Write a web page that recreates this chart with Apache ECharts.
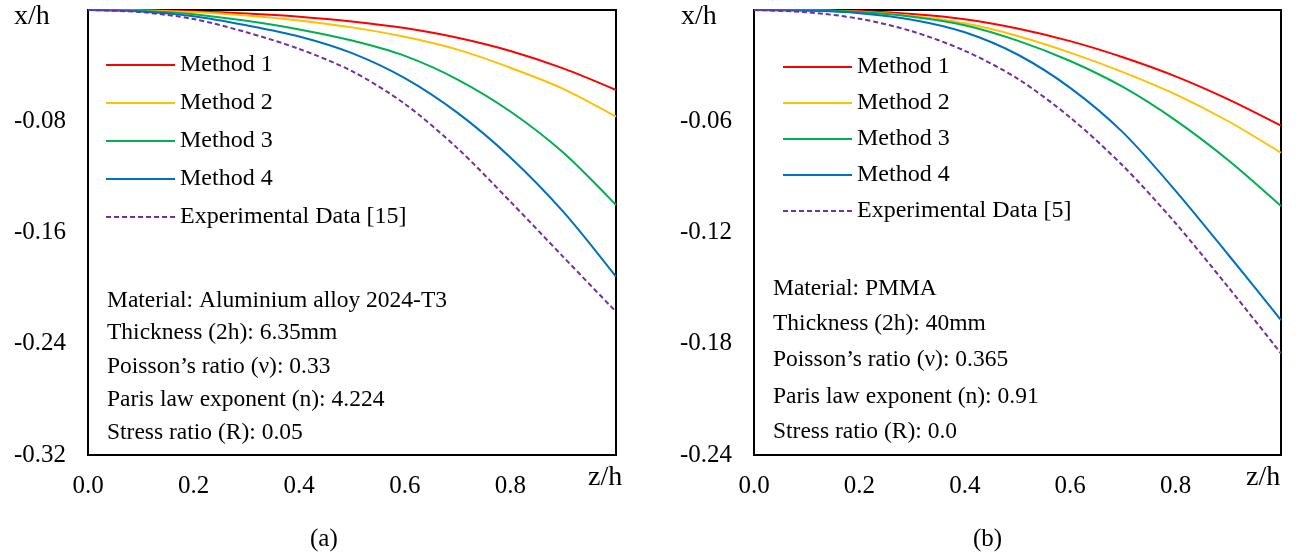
<!DOCTYPE html>
<html>
<head>
<meta charset="utf-8">
<script src="https://cdn.jsdelivr.net/npm/echarts@6/dist/echarts.min.js"></script>
<style>
  html, body { margin: 0; padding: 0; background: #fff; }
  #chart { width: 1305px; height: 558px; }
</style>
</head>
<body>
<div id="chart"></div>
<script>
// ---------- data ----------
const zValues = [0, 0.1, 0.2, 0.3, 0.4, 0.5, 0.6, 0.7, 0.8, 0.9, 1.0];
const seriesNames = ['Method 1', 'Method 2', 'Method 3', 'Method 4'];
const expNameA = 'Experimental Data [15]';
const expNameB = 'Experimental Data [5]';

// Panel (a): Aluminium alloy 2024-T3
const m1A  = [0, -0.0002, -0.0010, -0.0025, -0.0048, -0.0082, -0.0130, -0.0200, -0.0295, -0.0420, -0.0575];
const m2A  = [0, -0.0003, -0.0015, -0.0039, -0.0075, -0.0125, -0.0193, -0.0285, -0.0415, -0.0567, -0.0767];
const m3A  = [0, -0.0005, -0.0030, -0.0078, -0.0140, -0.0220, -0.0330, -0.0500, -0.0730, -0.1025, -0.1402];
const m4A  = [0, -0.0010, -0.0045, -0.0110, -0.0190, -0.0310, -0.0490, -0.0740, -0.1060, -0.1450, -0.1918];
const expA = [0, -0.0015, -0.0065, -0.0160, -0.0280, -0.0440, -0.0675, -0.0995, -0.1378, -0.1775, -0.2170];

// Panel (b): PMMA
const m1B  = [0, -0.0001, -0.0006, -0.0022, -0.0050, -0.0100, -0.0168, -0.0255, -0.0358, -0.0482, -0.0624];
const m2B  = [0, -0.0002, -0.0010, -0.0032, -0.0072, -0.0140, -0.0230, -0.0335, -0.0455, -0.0600, -0.0770];
const m3B  = [0, -0.0002, -0.0011, -0.0036, -0.0082, -0.0165, -0.0275, -0.0415, -0.0595, -0.0810, -0.1057];
const m4B  = [0, -0.0003, -0.0017, -0.0052, -0.0120, -0.0240, -0.0420, -0.0660, -0.0975, -0.1320, -0.1672];
const expB = [0, -0.0012, -0.0047, -0.0115, -0.0220, -0.0370, -0.0580, -0.0840, -0.1150, -0.1495, -0.1852];

const xTicksInterval = 0.2;
const yIntervalA = 0.08, yMinA = -0.32;
const yIntervalB = 0.06, yMinB = -0.24;

const infoA = [
  'Material: Aluminium alloy 2024-T3',
  'Thickness (2h): 6.35mm',
  'Poisson\u2019s ratio (\u03bd): 0.33',
  'Paris law exponent (n): 4.224',
  'Stress ratio (R): 0.05'
];
const infoB = [
  'Material: PMMA',
  'Thickness (2h): 40mm',
  'Poisson\u2019s ratio (\u03bd): 0.365',
  'Paris law exponent (n): 0.91',
  'Stress ratio (R): 0.0'
];

// ---------- styling ----------
const FONT = '"Liberation Serif", "Times New Roman", serif';
const colors = ['#FF0000', '#FFC000', '#00B050', '#0070C0', '#7030A0'];

// legend icons: a solid bar and a dashed bar (69 x 2)
const SOLID_ICON = 'path://M0,0h69v2h-69z';
let dashPath = '';
for (let x = 0; x < 69; x += 8) { dashPath += 'M' + x + ',0h5v2h-5z'; }
const DASH_ICON = 'path://' + dashPath;

function pairs(arr) { return zValues.map((z, i) => [z, arr[i]]); }

function mkSeries(name, arr, idx, color, dashed) {
  return {
    type: 'line', name: name, xAxisIndex: idx, yAxisIndex: idx,
    data: pairs(arr), showSymbol: false, symbol: 'none',
    smooth: 0.3, smoothConstraint: false,
    lineStyle: { color: color, width: 2, type: dashed ? [5, 3] : 'solid' },
    itemStyle: { color: color },
    emphasis: { disabled: true }, silent: true, animation: false
  };
}

function xAxis(idx) {
  return {
    type: 'value', gridIndex: idx, min: 0, max: 1, interval: xTicksInterval,
    axisLine: { show: false }, axisTick: { show: false }, splitLine: { show: false },
    axisLabel: {
      margin: 19, fontFamily: FONT, fontSize: 25, color: '#000',
      formatter: v => (Math.abs(v - 1) < 1e-9 ? '' : v.toFixed(1))
    }
  };
}
function yAxis(idx, min, interval) {
  return {
    type: 'value', gridIndex: idx, min: min, max: 0, interval: interval,
    axisLine: { show: false }, axisTick: { show: false }, splitLine: { show: false },
    axisLabel: {
      margin: 22, fontFamily: FONT, fontSize: 25, color: '#000',
      formatter: v => (Math.abs(v) < 1e-9 ? '' : v.toFixed(2))
    }
  };
}

function legend(left, top, gap, names) {
  return {
    orient: 'vertical', left: left, top: top, itemWidth: 69, itemHeight: 2,
    symbolKeepAspect: false,
    itemGap: gap, padding: 0, selectedMode: false,
    data: names.map((n, i) => ({ name: n, icon: i === names.length - 1 ? DASH_ICON : SOLID_ICON })),
    textStyle: { fontFamily: FONT, fontSize: 24, color: '#000', lineHeight: 24 }
  };
}

function infoTexts(x, ys, lines) {
  return lines.map((t, i) => ({
    type: 'text', left: x, top: ys[i] - 12, silent: true,
    style: { text: t, fontFamily: FONT, fontSize: 23.5, fill: '#000' }
  }));
}

const chart = echarts.init(document.getElementById('chart'), null, { renderer: 'canvas' });

const option = {
  animation: false,
  backgroundColor: '#fff',
  grid: [
    { left: 88, top: 10, width: 528, height: 445, show: true, borderColor: '#000', borderWidth: 2, backgroundColor: 'transparent' },
    { left: 754, top: 10, width: 527, height: 445, show: true, borderColor: '#000', borderWidth: 2, backgroundColor: 'transparent' }
  ],
  xAxis: [xAxis(0), xAxis(1)],
  yAxis: [yAxis(0, yMinA, yIntervalA), yAxis(1, yMinB, yIntervalB)],
  legend: [
    legend(106, 53, 14, seriesNames.concat([expNameA])),
    legend(783, 55, 12, seriesNames.concat([expNameB]))
  ],
  series: [
    mkSeries(seriesNames[0], m1A, 0, colors[0], false),
    mkSeries(seriesNames[1], m2A, 0, colors[1], false),
    mkSeries(seriesNames[2], m3A, 0, colors[2], false),
    mkSeries(seriesNames[3], m4A, 0, colors[3], false),
    mkSeries(expNameA, expA, 0, colors[4], true),
    mkSeries(seriesNames[0], m1B, 1, colors[0], false),
    mkSeries(seriesNames[1], m2B, 1, colors[1], false),
    mkSeries(seriesNames[2], m3B, 1, colors[2], false),
    mkSeries(seriesNames[3], m4B, 1, colors[3], false),
    mkSeries(expNameB, expB, 1, colors[4], true)
  ],
  graphic: [
    { type: 'text', left: 14, top: 3, silent: true,
      style: { text: 'x/h', fontFamily: FONT, fontSize: 28, fill: '#000' } },
    { type: 'text', left: 681, top: 3, silent: true,
      style: { text: 'x/h', fontFamily: FONT, fontSize: 28, fill: '#000' } },
    { type: 'text', left: 588, top: 464, silent: true,
      style: { text: 'z/h', fontFamily: FONT, fontSize: 28, fill: '#000' } },
    { type: 'text', left: 1246, top: 464, silent: true,
      style: { text: 'z/h', fontFamily: FONT, fontSize: 28, fill: '#000' } },
    { type: 'text', left: 310, top: 527, silent: true,
      style: { text: '(a)', fontFamily: FONT, fontSize: 25, fill: '#000' } },
    { type: 'text', left: 973, top: 527, silent: true,
      style: { text: '(b)', fontFamily: FONT, fontSize: 25, fill: '#000' } }
  ].concat(
    infoTexts(107, [301, 333, 367, 400, 433], infoA),
    infoTexts(773, [289, 324, 360, 397, 432], infoB)
  )
};

chart.setOption(option);
</script>
</body>
</html>
